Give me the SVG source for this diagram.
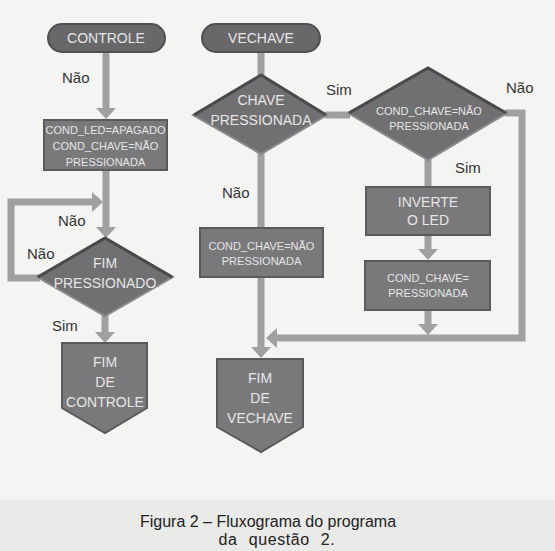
<svg xmlns="http://www.w3.org/2000/svg" width="555" height="551" viewBox="0 0 555 551">
<defs>
<marker id="ah" viewBox="0 0 11 20" refX="0" refY="10" markerWidth="11" markerHeight="20" markerUnits="userSpaceOnUse" orient="auto">
<path d="M0,0 L11,10 L0,20 z" fill="#a0a0a0"/>
</marker>
</defs>
<style>
.bg{fill:#f4f4f2}
.band{fill:#eaeae8}
.conn{fill:none;stroke:#a0a0a0;stroke-width:7;stroke-linejoin:miter}
.pill{fill:#68686a;stroke:#505052;stroke-width:2}
.box{fill:#79797b;stroke:#5a5a5c;stroke-width:2}
.dia{fill:#707072;stroke:#8a8a8c;stroke-width:2}
.diaedge{fill:none;stroke:#4a4a4c;stroke-width:3}
.nt{font-family:"Liberation Sans",Arial,sans-serif;fill:#e6e6e6;text-anchor:middle}
.n14{font-size:14px}
.n11{font-size:11px}
.lbl{font-family:"Liberation Sans",Arial,sans-serif;font-size:15px;fill:#333}
.cap{font-family:"Liberation Sans",Arial,sans-serif;font-size:16px;fill:#222;text-anchor:middle}
</style>
<rect class="bg" x="0" y="0" width="555" height="551"/>
<rect class="band" x="0" y="500" width="555" height="51"/>

<g id="connectors">
<path class="conn" d="M106,51 V108" marker-end="url(#ah)"/>
<path class="conn" d="M106,170 V227" marker-end="url(#ah)"/>
<path class="conn" d="M40,278 H11 V202 H92" marker-end="url(#ah)"/>
<path class="conn" d="M105,314 V332" marker-end="url(#ah)"/>
<path class="conn" d="M261,52 V76"/>
<path class="conn" d="M325,115 H350"/>
<path class="conn" d="M261,152 V228"/>
<path class="conn" d="M261,277 V347" marker-end="url(#ah)"/>
<path class="conn" d="M505,113 H522 V338 H277" marker-end="url(#ah)"/>
<path class="conn" d="M428,158 V187"/>
<path class="conn" d="M428,235 V249" marker-end="url(#ah)"/>
<path class="conn" d="M428,310 V324" marker-end="url(#ah)"/>
</g>

<g id="labels">
<text class="lbl" x="62" y="83">Não</text>
<text class="lbl" x="58" y="226">Não</text>
<text class="lbl" x="27" y="259">Não</text>
<text class="lbl" x="52" y="331">Sim</text>
<text class="lbl" x="326" y="95">Sim</text>
<text class="lbl" x="506" y="93">Não</text>
<text class="lbl" x="455" y="173">Sim</text>
<text class="lbl" x="222" y="198">Não</text>
</g>

<g id="controle">
<rect class="pill" x="48" y="24" width="117" height="28" rx="14"/>
<text class="nt n14" x="106" y="43">CONTROLE</text>
</g>

<g id="cond-led">
<rect class="box" x="44" y="120" width="123" height="50"/>
<text class="nt n11" x="105.5" y="134">COND_LED=APAGADO</text>
<text class="nt n11" x="105.5" y="150">COND_CHAVE=NÃO</text>
<text class="nt n11" x="105.5" y="166">PRESSIONADA</text>
</g>

<g id="fim-pressionado">
<polygon class="dia" points="105,238 173,277 105,316 37,277"/>
<polyline class="diaedge" points="38,277 105,238 172,277"/>
<text class="nt n14" x="105" y="268">FIM</text>
<text class="nt n14" x="105" y="288">PRESSIONADO</text>
</g>

<g id="fim-controle">
<polygon class="box" points="62,343 147,343 147,408 105,433 62,408"/>
<text class="nt n14" x="105" y="367">FIM</text>
<text class="nt n14" x="105" y="387">DE</text>
<text class="nt n14" x="105" y="407">CONTROLE</text>
</g>

<g id="vechave">
<rect class="pill" x="202" y="24" width="118" height="28" rx="14"/>
<text class="nt n14" x="261" y="43">VECHAVE</text>
</g>

<g id="chave-pressionada">
<polygon class="dia" points="261,75 327,115 261,154 193,115"/>
<polyline class="diaedge" points="194,115 261,75 326,115"/>
<text class="nt n14" x="261" y="105">CHAVE</text>
<text class="nt n14" x="261" y="125">PRESSIONADA</text>
</g>

<g id="cond-chave-nao-box">
<rect class="box" x="200" y="228" width="123" height="49"/>
<text class="nt n11" x="261.5" y="250">COND_CHAVE=NÃO</text>
<text class="nt n11" x="261.5" y="265">PRESSIONADA</text>
</g>

<g id="fim-vechave">
<polygon class="box" points="217,359 303,359 303,427 261,452 217,427"/>
<text class="nt n14" x="260" y="383">FIM</text>
<text class="nt n14" x="260" y="403">DE</text>
<text class="nt n14" x="260" y="423">VECHAVE</text>
</g>

<g id="cond-chave-nao-dia">
<polygon class="dia" points="428,68 507,113 428,160 348,113"/>
<polyline class="diaedge" points="349,113 428,68 506,113"/>
<text class="nt n11" x="429" y="115">COND_CHAVE=NÃO</text>
<text class="nt n11" x="429" y="130">PRESSIONADA</text>
</g>

<g id="inverte-led">
<rect class="box" x="366" y="187" width="124" height="48"/>
<text class="nt n14" x="428" y="207">INVERTE</text>
<text class="nt n14" x="428" y="225">O LED</text>
</g>

<g id="cond-chave-pressionada">
<rect class="box" x="365" y="261" width="125" height="49"/>
<text class="nt n11" x="428" y="282">COND_CHAVE=</text>
<text class="nt n11" x="428" y="297">PRESSIONADA</text>
</g>

<g id="caption">
<text class="cap" x="268" y="527">Figura 2 – Fluxograma do programa</text>
<text class="cap" x="277" y="545" letter-spacing="0.6" word-spacing="6">da questão 2.</text>
</g>
</svg>
